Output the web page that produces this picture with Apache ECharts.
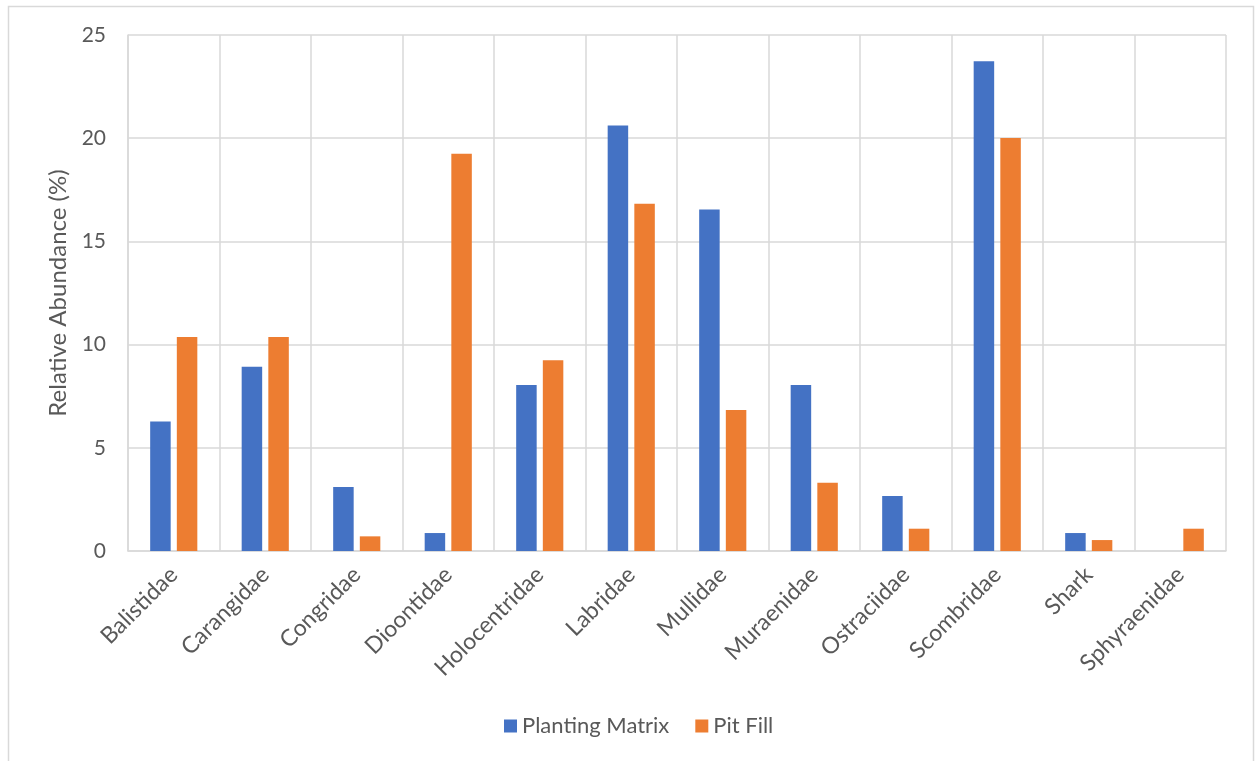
<!DOCTYPE html>
<html>
<head>
<meta charset="utf-8">
<script src="https://cdn.jsdelivr.net/npm/echarts@6/dist/echarts.min.js"></script>
<style>
  html, body { margin: 0; padding: 0; background: #fff; }
  #chart { width: 1255px; height: 761px; }
</style>
</head>
<body>
<div id="chart"></div>
<script>
// Fish family relative abundance by context
const families = ['Balistidae', 'Carangidae', 'Congridae', 'Dioontidae', 'Holocentridae', 'Labridae',
  'Mullidae', 'Muraenidae', 'Ostraciidae', 'Scombridae', 'Shark', 'Sphyraenidae'];
const plantingMatrix = [6.27, 8.93, 3.10, 0.87, 8.04, 20.61, 16.55, 8.04, 2.66, 23.73, 0.87, 0];
const pitFill = [10.37, 10.37, 0.71, 19.25, 9.24, 16.83, 6.83, 3.31, 1.08, 20.01, 0.53, 1.08];
const yTicks = [0, 5, 10, 15, 20, 25];

const FONT = 'Lato, "Open Sans", sans-serif';
const TEXT = '#595959';
const GRID = '#D9D9D9';

const chart = echarts.init(document.getElementById('chart'), null, { renderer: 'canvas' });
chart.setOption({
  backgroundColor: '#fff',
  animation: false,
  graphic: [{
    type: 'rect',
    shape: { x: 8.5, y: 6.5, width: 1245, height: 780 },
    style: { fill: 'none', stroke: GRID, lineWidth: 1.5 },
    silent: true
  }],
  grid: { left: 128, right: 29, top: 35, bottom: 210, containLabel: false },
  legend: {
    data: ['Planting Matrix', 'Pit Fill'],
    left: 499,
    top: 710,
    icon: 'rect',
    itemWidth: 13,
    itemHeight: 13,
    itemGap: 26,
    textStyle: { fontFamily: FONT, fontSize: 22, color: TEXT }
  },
  xAxis: {
    type: 'category',
    data: families,
    axisLine: { show: true, lineStyle: { color: GRID, width: 1.5 } },
    axisTick: { show: false },
    splitLine: { show: true, lineStyle: { color: GRID, width: 1.5 } },
    axisLabel: {
      rotate: 45,
      margin: 20,
      fontFamily: FONT,
      fontSize: 23,
      color: TEXT,
      interval: 0
    }
  },
  yAxis: {
    type: 'value',
    min: yTicks[0],
    max: yTicks[yTicks.length - 1],
    interval: 5,
    name: 'Relative Abundance (%)',
    nameLocation: 'middle',
    nameGap: 56,
    nameTextStyle: { fontFamily: FONT, fontSize: 24, color: TEXT },
    axisLine: { show: true, lineStyle: { color: GRID, width: 1.5 } },
    axisTick: { show: false },
    splitLine: { show: true, lineStyle: { color: GRID, width: 1.5 } },
    axisLabel: { fontFamily: FONT, fontSize: 21, color: TEXT, margin: 22 }
  },
  series: [
    {
      name: 'Planting Matrix',
      type: 'bar',
      data: plantingMatrix,
      barWidth: 20.5,
      barGap: '30%',
      itemStyle: { color: '#4472C4' }
    },
    {
      name: 'Pit Fill',
      type: 'bar',
      data: pitFill,
      barWidth: 20.5,
      barGap: '30%',
      itemStyle: { color: '#ED7D31' }
    }
  ]
});
</script>
</body>
</html>
